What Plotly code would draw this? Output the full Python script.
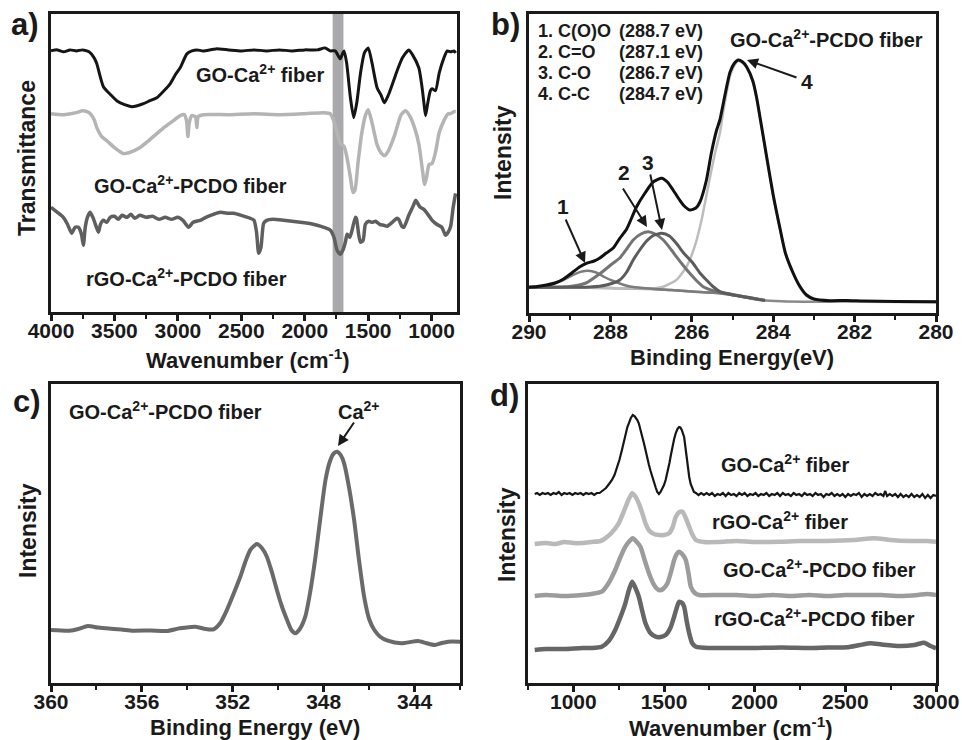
import plotly.graph_objects as go

# ---------------- Panel a: FTIR (wavenumber, transmittance a.u.) ----------------
ftir_go_ca = [
    (4000, 262), (3950, 263), (3900, 261), (3850, 263), (3800, 262), (3750, 263), (3700, 261),
    (3660, 255), (3639, 249), (3587, 226), (3530, 218), (3482, 212), (3420, 208), (3363, 206),
    (3320, 207), (3271, 209), (3220, 212), (3166, 215), (3110, 222), (3061, 229), (3020, 238),
    (2982, 245), (2929, 259), (2889, 262), (2850, 263), (2800, 262), (2700, 264), (2600, 263),
    (2500, 262), (2400, 263), (2300, 262), (2200, 263), (2100, 262), (2000, 263), (1900, 263),
    (1840, 265), (1800, 262), (1760, 262), (1720, 254), (1700, 260), (1690, 262), (1670, 250),
    (1640, 215), (1614, 195), (1590, 210), (1560, 240), (1530, 260), (1500, 265), (1470, 250),
    (1430, 225), (1400, 218), (1372, 210), (1340, 218), (1300, 232), (1272, 242), (1230, 255),
    (1180, 263), (1150, 258), (1101, 245), (1075, 225), (1061, 210), (1048, 197), (1030, 210),
    (1010, 222), (996, 224), (970, 222), (940, 240), (903, 255), (877, 262), (850, 261),
    (824, 262), (810, 260)]
ftir_go_ca_pcdo = [
    (4000, 199), (3900, 198), (3800, 200), (3750, 202), (3700, 200), (3660, 193), (3639, 185),
    (3600, 176), (3561, 172), (3500, 165), (3429, 159), (3380, 160), (3298, 165), (3230, 172),
    (3166, 179), (3100, 186), (3035, 192), (2982, 197), (2950, 198), (2932, 192), (2921, 176),
    (2910, 190), (2890, 197), (2862, 196), (2850, 185), (2840, 196), (2800, 198), (2600, 198),
    (2400, 199), (2200, 198), (2000, 199), (1850, 200), (1800, 199), (1772, 192), (1745, 180),
    (1720, 169), (1690, 166), (1667, 155), (1640, 135), (1620, 120), (1605, 122), (1580, 150),
    (1550, 180), (1520, 198), (1500, 203), (1470, 190), (1430, 168), (1400, 160), (1370, 157),
    (1340, 162), (1290, 178), (1240, 198), (1206, 202), (1170, 196), (1130, 183), (1100, 168),
    (1075, 145), (1055, 128), (1040, 135), (1020, 148), (996, 149), (970, 160), (940, 180),
    (903, 192), (870, 199), (850, 199), (824, 201), (810, 201)]
ftir_rgo_ca_pcdo = [
    (4000, 105), (3950, 100), (3903, 95), (3870, 88), (3837, 79), (3810, 85), (3784, 85),
    (3760, 78), (3745, 67), (3730, 85), (3713, 95), (3692, 100), (3670, 95), (3653, 89),
    (3626, 80), (3610, 88), (3587, 92), (3560, 90), (3534, 95), (3500, 96), (3470, 93),
    (3440, 97), (3400, 95), (3370, 98), (3340, 94), (3300, 97), (3250, 95), (3200, 96),
    (3150, 93), (3100, 95), (3050, 93), (3000, 95), (2960, 92), (2916, 85), (2880, 90),
    (2824, 92), (2780, 95), (2720, 98), (2666, 100), (2600, 99), (2561, 99), (2500, 97),
    (2429, 94), (2400, 92), (2380, 80), (2363, 59), (2345, 65), (2324, 89), (2300, 92),
    (2250, 93), (2166, 92), (2100, 91), (2035, 90), (1970, 89), (1903, 87), (1850, 85),
    (1798, 82), (1770, 75), (1745, 62), (1719, 58), (1700, 62), (1680, 70), (1666, 78),
    (1645, 75), (1627, 82), (1601, 95), (1593, 94), (1575, 78), (1561, 70), (1540, 72),
    (1522, 88), (1496, 91), (1469, 90), (1443, 91), (1410, 88), (1377, 87), (1351, 86),
    (1310, 90), (1272, 94), (1259, 93), (1235, 86), (1219, 85), (1180, 97), (1140, 108),
    (1127, 112), (1114, 110), (1090, 105), (1061, 103), (1030, 98), (996, 92), (960, 88),
    (920, 85), (890, 77), (870, 80), (850, 86), (830, 105), (811, 119)]
ftir_band = [1780, 1695]
ftir_ticks = [4000, 3500, 3000, 2500, 2000, 1500, 1000]

# ---------------- Panel b: C1s XPS (binding energy, intensity a.u.) ----------------
xps_c_envelope = [
    (290, 25.7), (289.8, 26.5), (289.57, 28), (289.36, 30), (289.16, 33.7), (288.95, 40),
    (288.75, 46.3), (288.59, 49.7), (288.4, 52), (288.26, 55), (288.1, 60), (287.93, 65),
    (287.77, 74.7), (287.6, 84), (287.36, 106), (287.15, 120), (286.95, 131), (286.74, 134.7),
    (286.6, 131), (286.46, 123), (286.3, 113), (286.21, 108), (286.05, 103), (285.9, 105),
    (285.8, 111), (285.64, 133), (285.52, 160), (285.39, 183), (285.31, 193), (285.2, 215),
    (285.06, 241), (284.95, 250), (284.86, 253), (284.75, 251), (284.65, 246), (284.5, 232),
    (284.41, 216), (284.3, 190), (284.16, 156), (284.0, 118), (283.84, 86), (283.7, 60),
    (283.51, 40), (283.35, 27), (283.18, 18), (283.0, 14), (282.61, 12.3), (282.2, 12.5),
    (281.79, 12), (281.0, 11.5), (280, 11.3)]
xps_c_peak1 = [
    (290, 25.7), (289.6, 27), (289.16, 33), (288.9, 38.5), (288.7, 41.5), (288.55, 42.3),
    (288.35, 40.5), (288.15, 36), (287.93, 32), (287.7, 28.5), (287.52, 26.5), (287.2, 25),
    (286.5, 23), (286.0, 21.5), (285.3, 19.7), (284.8, 16.5), (284.33, 13)]
xps_c_peak2 = [
    (290, 25.7), (289, 26.5), (288.6, 30), (288.3, 38), (287.93, 50), (287.77, 55),
    (287.6, 64), (287.44, 73), (287.25, 79), (287.07, 81.3), (286.9, 79), (286.7, 73),
    (286.5, 63), (286.38, 56.3), (286.2, 47), (286.05, 39.7), (285.9, 33), (285.72, 26.3),
    (285.5, 22.5), (285.39, 21.3), (285.0, 18.5), (284.6, 15.5), (284.2, 12.6)]
xps_c_peak3 = [
    (290, 25.7), (288.5, 26), (288.1, 28), (287.77, 33), (287.6, 41), (287.44, 53),
    (287.28, 63), (287.11, 72), (286.95, 77.5), (286.74, 79.7), (286.55, 77), (286.38, 69.7),
    (286.2, 60), (285.97, 49.7), (285.8, 40), (285.64, 33), (285.48, 26.5), (285.31, 21.3),
    (284.98, 18), (284.6, 15.5), (284.2, 12.6)]
xps_c_peak4 = [
    (290, 25.7), (288, 25), (287, 24.5), (286.7, 26.3), (286.38, 33), (286.13, 46.3),
    (285.93, 66.3), (285.76, 93), (285.6, 126), (285.43, 160), (285.31, 180), (285.2, 208),
    (285.06, 237), (284.95, 248), (284.86, 252), (284.75, 250), (284.65, 245), (284.5, 231),
    (284.41, 215), (284.3, 189), (284.16, 155), (284.0, 117), (283.84, 85), (283.7, 59),
    (283.51, 39), (283.35, 26), (283.18, 17), (283.0, 13.5), (282.6, 12), (281, 11.3), (280, 11)]
xps_c_background = [
    (290, 25.7), (289, 25.5), (288, 25), (287.77, 24.7), (287, 24), (286.54, 23), (286, 21.5),
    (285.31, 19.7), (284.8, 16.5), (284.33, 13), (283.8, 11.8), (283, 11.3), (282, 11.2), (280, 11)]
xps_c_legend = [("1. C(O)O", "(288.7 eV)"), ("2. C=O", "(287.1 eV)"),
                ("3. C-O", "(286.7 eV)"), ("4. C-C", "(284.7 eV)")]

# ---------------- Panel c: Ca2p XPS ----------------
xps_ca = [
    (360, 53), (359.19, 52.3), (358.8, 54), (358.38, 57), (357.95, 55.5), (357.57, 54.7),
    (356.9, 53.5), (356.39, 52.3), (355.6, 52.5), (354.92, 52), (354.33, 54.7), (353.66, 56.3),
    (353.2, 54), (352.85, 53.7), (352.55, 60), (352.26, 73), (351.95, 90), (351.67, 106.3),
    (351.45, 121), (351.23, 133), (350.94, 139), (350.72, 135), (350.5, 126.3), (350.28, 111),
    (350.06, 93), (349.83, 76), (349.61, 63), (349.42, 53), (349.25, 49.7), (349.05, 54),
    (348.81, 66.3), (348.6, 90), (348.36, 126.3), (348.14, 166), (347.92, 203), (347.72, 222),
    (347.55, 229.7), (347.4, 231.3), (347.25, 228), (347.1, 219.7), (346.88, 195), (346.66, 163),
    (346.44, 122), (346.22, 86.3), (346.0, 64), (345.77, 53), (345.5, 46), (345.18, 42.3),
    (344.59, 39.7), (343.85, 42), (343.5, 40), (343.11, 38), (342.8, 40), (342.52, 41.3),
    (341.96, 41.3)]
xps_ca_ticks = [360, 356, 352, 348, 344]

# ---------------- Panel d: Raman ----------------
raman_go_ca = [
    (787, 189), (800, 190), (815, 188), (830, 190), (845, 189), (860, 190), (875, 188),
    (890, 190), (905, 189), (920, 191), (935, 188), (950, 190), (965, 189), (980, 190),
    (995, 188), (1010, 190), (1025, 189), (1040, 190), (1055, 188), (1070, 190), (1085, 189),
    (1100, 190), (1115, 188), (1130, 190), (1145, 190), (1160, 192), (1180, 195), (1197, 199),
    (1213, 203), (1227, 208), (1240, 215), (1254, 223), (1268, 233), (1280, 243), (1290, 250),
    (1298, 256), (1306, 259.7), (1317, 265), (1328, 268), (1337, 267), (1345, 265),
    (1353, 263), (1361, 259.7), (1370, 254), (1380, 247), (1389, 240), (1398, 233),
    (1407, 225), (1417, 218), (1426, 212), (1435, 206), (1445, 200), (1455, 195), (1463, 191),
    (1472, 189), (1481, 191), (1490, 194), (1500, 198), (1509, 203), (1520, 211), (1530, 220),
    (1538, 228), (1546, 236), (1556, 244), (1565, 250), (1574, 254), (1583, 256), (1590, 255.5),
    (1598, 253), (1605, 250), (1611, 246), (1618, 236), (1625, 225), (1632, 214), (1639, 206),
    (1647, 199), (1655, 195), (1665, 191), (1676, 190), (1690, 188), (1705, 190), (1720, 188),
    (1735, 190), (1750, 188), (1765, 190), (1780, 187), (1795, 189), (1810, 188), (1825, 190),
    (1840, 187), (1855, 190), (1870, 188), (1885, 189), (1900, 187), (1915, 190), (1930, 188),
    (1945, 190), (1960, 187), (1975, 189), (1990, 188), (2005, 190), (2020, 187), (2035, 189),
    (2050, 188), (2065, 190), (2080, 187), (2095, 189), (2110, 188), (2125, 190), (2140, 187),
    (2155, 190), (2170, 188), (2185, 189), (2200, 187), (2215, 190), (2230, 188), (2245, 189),
    (2260, 187), (2275, 190), (2290, 188), (2305, 189), (2320, 187), (2335, 190), (2350, 188),
    (2365, 189), (2380, 186), (2395, 189), (2410, 188), (2425, 190), (2440, 187), (2455, 189),
    (2470, 187), (2485, 189), (2500, 186), (2515, 189), (2530, 187), (2545, 189), (2560, 188),
    (2575, 190), (2590, 186), (2605, 189), (2620, 187), (2635, 189), (2650, 187), (2665, 190),
    (2680, 188), (2695, 189), (2710, 187), (2720, 192), (2730, 187), (2745, 189), (2760, 187),
    (2775, 189), (2790, 186), (2805, 189), (2820, 186), (2835, 188), (2850, 186), (2865, 189),
    (2880, 186), (2895, 188), (2910, 186), (2925, 189), (2940, 185), (2955, 188), (2970, 185),
    (2985, 188), (3000, 187)]
raman_rgo_ca = [
    (787, 139), (850, 140), (900, 139), (950, 141), (1000, 140), (1050, 140), (1100, 141),
    (1150, 142), (1176, 144.7), (1210, 150), (1250, 159.7), (1275, 170), (1296, 179.7),
    (1324, 189.7), (1340, 187), (1361, 179.7), (1380, 170), (1398, 159.7), (1420, 152),
    (1445, 149), (1472, 148), (1500, 148), (1528, 149.7), (1548, 156), (1565, 166.3),
    (1585, 171), (1602, 171.3), (1620, 165), (1639, 156.3), (1655, 149), (1676, 143),
    (1720, 141), (1800, 141), (1900, 142), (2000, 141), (2139, 141.3), (2250, 142),
    (2400, 142), (2550, 143), (2657, 144.7), (2750, 143), (2850, 142), (2950, 142), (3000, 141.3)]
raman_go_ca_pcdo = [
    (787, 87), (850, 88), (950, 87), (1050, 88), (1100, 89), (1157, 91.3), (1195, 100),
    (1231, 113), (1260, 126), (1287, 136.3), (1310, 142), (1328, 144.7), (1350, 141),
    (1370, 136.3), (1395, 122), (1417, 109.7), (1445, 98), (1472, 93), (1495, 94),
    (1519, 99.7), (1540, 112), (1556, 123), (1570, 129), (1583, 131.3), (1600, 129),
    (1620, 123), (1635, 110), (1648, 96.3), (1670, 90), (1694, 88), (1800, 88), (1900, 88),
    (2000, 87), (2100, 88), (2200, 87), (2300, 88), (2400, 87), (2500, 88), (2600, 88),
    (2700, 88), (2800, 87), (2900, 88), (2950, 89), (3000, 88)]
raman_rgo_ca_pcdo = [
    (787, 33), (850, 34), (950, 34), (1050, 35), (1100, 35), (1157, 36.3), (1195, 42),
    (1231, 53), (1260, 66), (1287, 79.7), (1305, 92), (1324, 101.3), (1340, 96), (1361, 86.3),
    (1380, 72), (1398, 59.7), (1425, 50), (1454, 46.3), (1480, 46), (1509, 48), (1535, 55),
    (1556, 66.3), (1570, 75), (1583, 81.3), (1600, 80), (1611, 76.3), (1625, 62), (1639, 49.7),
    (1655, 40), (1676, 36.3), (1750, 35), (1850, 35), (2000, 35), (2150, 35.5), (2300, 35),
    (2400, 35.5), (2509, 35.7), (2580, 38), (2639, 39.7), (2700, 38.5), (2800, 37),
    (2880, 38), (2935, 40.3), (2970, 37), (3000, 34.7)]
raman_ticks = [1000, 1500, 2000, 2500, 3000]

# ---------------- figure ----------------
W, H = 962, 740
FONT = "Liberation Sans, Arial, sans-serif"


def dx(l, r):
    return [l / W, r / W]


def dy(t, b):
    return [1 - b / H, 1 - t / H]


def px(x):
    return x / W


def py(y):
    return 1 - y / H


def xy(pairs):
    xs, ys = zip(*pairs)
    return list(xs), list(ys)


fig = go.Figure()


def add_line(pairs, color, width, axis, shape="spline"):
    x, y = xy(pairs)
    line = dict(color=color, width=width, shape=shape)
    if shape == "spline":
        line["smoothing"] = 0.6
    fig.add_trace(go.Scatter(x=x, y=y, mode="lines", xaxis="x" + axis, yaxis="y" + axis,
                             line=line, showlegend=False, hoverinfo="skip"))


# panel a
add_line(ftir_go_ca, "#151515", 3, "")
add_line(ftir_go_ca_pcdo, "#b4b4b4", 3.5, "")
add_line(ftir_rgo_ca_pcdo, "#5f5f5f", 3.5, "")
# panel b
add_line(xps_c_background, "#8a8a8a", 2.5, "2")
add_line(xps_c_peak4, "#bdbdbd", 2.5, "2")
add_line(xps_c_peak1, "#7c7c7c", 2.5, "2")
add_line(xps_c_peak2, "#747474", 3, "2")
add_line(xps_c_peak3, "#5c5c5c", 3, "2")
add_line(xps_c_envelope, "#111111", 3, "2")
# panel c
add_line(xps_ca, "#6a6a6a", 4, "3")
# panel d
add_line(raman_rgo_ca_pcdo, "#666666", 4.5, "4")
add_line(raman_go_ca_pcdo, "#9c9c9c", 4.5, "4")
add_line(raman_rgo_ca, "#b9b9b9", 4.5, "4")
add_line(raman_go_ca, "#161616", 2.2, "4", shape="linear")

tickfont = dict(family=FONT, size=21, color="#1a1a1a", weight="bold")


def xax(domain, rng, tickvals, minor_dtick, anchor):
    return dict(domain=domain, range=rng, tickmode="array", tickvals=tickvals,
                ticks="outside", ticklen=6, tickwidth=2.5, tickcolor="#1a1a1a",
                ticklabelstandoff=-8,
                minor=dict(ticks="outside", ticklen=4, tickwidth=2, tickcolor="#1a1a1a",
                           dtick=minor_dtick, showgrid=False),
                showline=True, linewidth=3, linecolor="#1a1a1a", mirror=True,
                showgrid=False, zeroline=False, tickfont=tickfont, anchor=anchor,
                automargin=False)


def yax(domain, anchor):
    return dict(domain=domain, range=[0, 299], showticklabels=False, ticks="",
                showline=True, linewidth=3, linecolor="#1a1a1a", mirror=True,
                showgrid=False, zeroline=False, anchor=anchor, automargin=False)


fig.update_layout(
    template="none",
    width=W, height=H, autosize=False,
    margin=dict(l=0, r=0, t=0, b=0, pad=0, autoexpand=False),
    paper_bgcolor="white", plot_bgcolor="white",
    font=dict(family=FONT, color="#1a1a1a", weight="bold"),
    xaxis=xax(dx(51, 457), [4000, 800], ftir_ticks, 250, "y"),
    yaxis=yax(dy(14, 312), "x"),
    xaxis2=xax(dx(529, 936), [290, 280], [290, 288, 286, 284, 282, 280], 1, "y2"),
    yaxis2=yax(dy(14, 313), "x2"),
    xaxis3=xax(dx(51, 460), [360, 342], xps_ca_ticks, 2, "y3"),
    yaxis3=yax(dy(384, 683), "x3"),
    xaxis4=xax(dx(528, 936), [750, 3000], raman_ticks, 250, "y4"),
    yaxis4=yax(dy(384, 683), "x4"),
)
fig.update_layout(xaxis2=dict(minor=dict(tick0=280)))

# highlighted band in panel a
fig.add_shape(type="rect", xref="x", yref="y domain", x0=ftir_band[0], x1=ftir_band[1],
              y0=0, y1=1, fillcolor="#a9a9ac", line=dict(width=0), layer="below")

SUP = "<sup>2+</sup>"
ann = []


def text(x, y, s, size, xanchor="center", angle=0):
    ann.append(dict(x=px(x), y=py(y), xref="paper", yref="paper", text=s, showarrow=False,
                    xanchor=xanchor, yanchor="middle", textangle=angle,
                    font=dict(family=FONT, size=size, color="#1a1a1a", weight="bold")))


def arrow(tail, tip):
    ann.append(dict(x=px(tip[0]), y=py(tip[1]), xref="paper", yref="paper", text="",
                    showarrow=True, axref="pixel", ayref="pixel",
                    ax=tail[0] - tip[0], ay=tail[1] - tip[1],
                    arrowhead=2, arrowsize=1.1, arrowwidth=2, arrowcolor="#1a1a1a",
                    standoff=0, startstandoff=0))


# panel letters
text(25, 25, "a)", 31)
text(505, 24, "b)", 31)
text(27, 401, "c)", 31)
text(504, 395, "d)", 31)
# axis titles
text(27, 158, "Transmittance", 23, angle=-90)
text(248, 359, "Wavenumber (cm<sup>-1</sup>)", 22)
text(503, 152, "Intensity", 23, angle=-90)
text(732, 357, "Binding Energy(eV)", 22)
text(28, 531, "Intensity", 23, angle=-90)
text(255, 727, "Binding Energy (eV)", 22)
text(507, 534, "Intensity", 23, angle=-90)
text(731, 727, "Wavenumber (cm<sup>-1</sup>)", 22)
# panel a labels
text(260, 73, "GO-Ca" + SUP + " fiber", 20)
text(190, 184, "GO-Ca" + SUP + "-PCDO fiber", 20)
text(186, 277, "rGO-Ca" + SUP + "-PCDO fiber", 20)
# panel b labels
for i, (name, val) in enumerate(xps_c_legend):
    text(536, 31 + 21 * i, name, 18, xanchor="left")
    text(617, 31 + 21 * i, val, 18, xanchor="left")
text(826, 38, "GO-Ca" + SUP + "-PCDO fiber", 20)
text(563, 207, "1", 21)
text(624, 172, "2", 21)
text(648, 162, "3", 21)
text(807, 82, "4", 21)
arrow((565, 218), (585, 263))
arrow((622, 187), (647, 227))
arrow((650, 173), (662, 230))
arrow((798, 78), (747, 60))
# panel c labels
text(67, 410, "GO-Ca" + SUP + "-PCDO fiber", 20, xanchor="left")
text(359, 410, "Ca" + SUP, 20)
arrow((355, 421), (338, 446))
# panel d labels
text(785, 463, "GO-Ca" + SUP + " fiber", 20)
text(780, 520, "rGO-Ca" + SUP + " fiber", 20)
text(819, 568, "GO-Ca" + SUP + "-PCDO fiber", 20)
text(814, 617, "rGO-Ca" + SUP + "-PCDO fiber", 20)

fig.update_layout(annotations=ann)
fig.write_html("out.html", config={"displayModeBar": False},
               post_script="document.body.style.margin='0px';document.body.style.overflow='hidden';")
